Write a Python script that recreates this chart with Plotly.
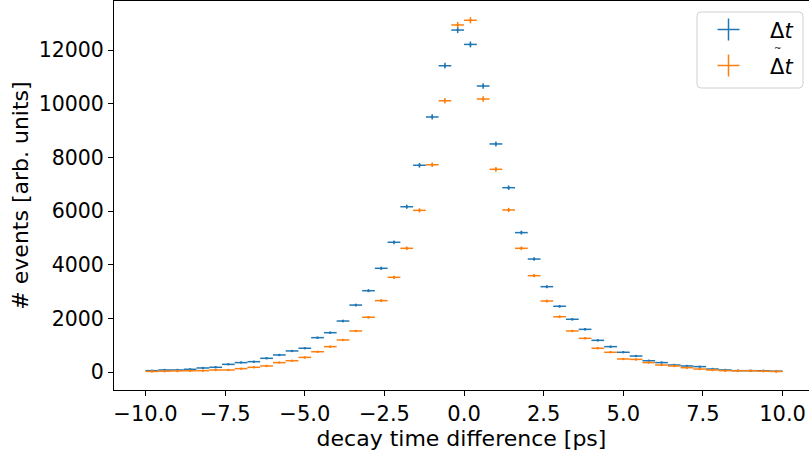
import numpy as np
import plotly.graph_objects as go

# bin centres [ps]
bin_centers = [-9.8, -9.4, -9.0, -8.6, -8.2, -7.8, -7.4, -7.0, -6.6, -6.2,
               -5.8, -5.4, -5.0, -4.6, -4.2, -3.8, -3.4, -3.0, -2.6, -2.2,
               -1.8, -1.4, -1.0, -0.6, -0.2, 0.2, 0.6, 1.0, 1.4, 1.8,
               2.2, 2.6, 3.0, 3.4, 3.8, 4.2, 4.6, 5.0, 5.4, 5.8,
               6.2, 6.6, 7.0, 7.4, 7.8, 8.2, 8.6, 9.0, 9.4, 9.8]
bin_half_width = 0.2

counts_dt = [50, 75, 75, 100, 150, 175, 285, 350, 385, 510,
             635, 785, 885, 1280, 1465, 1900, 2495, 3030, 3865, 4835,
             6160, 7705, 9505, 11415, 12745, 12210, 10660, 8500, 6870, 5195,
             4210, 3180, 2450, 1965, 1590, 1180, 945, 735, 595, 420,
             350, 260, 225, 200, 110, 75, 50, 50, 45, 30]

counts_dt_tilde = [20, 30, 40, 45, 50, 75, 75, 125, 175, 225,
                   350, 420, 545, 755, 945, 1195, 1530, 2040, 2660, 3530,
                   4610, 6025, 7725, 10110, 12935, 13110, 10175, 7555, 6040, 4610,
                   3590, 2645, 2060, 1530, 1255, 885, 735, 485, 470, 350,
                   260, 225, 160, 110, 75, 50, 45, 45, 30, 20]

series_names = ["Δ<i>t</i>", "Δ<i>t</i>"]
series_accents = ["", "~"]
series_colors = ["#1f77b4", "#ff7f0e"]

x_tick_vals = [-10.0, -7.5, -5.0, -2.5, 0.0, 2.5, 5.0, 7.5, 10.0]
x_tick_text = ["−10.0", "−7.5", "−5.0", "−2.5", "0.0", "2.5", "5.0", "7.5", "10.0"]
y_tick_vals = [0, 2000, 4000, 6000, 8000, 10000, 12000]
y_tick_text = ["0", "2000", "4000", "6000", "8000", "10000", "12000"]

FONT = "DejaVu Sans"
W, H = 809, 451
L, R, T, B = 114, 0, 1, 61
PW, PH = W - L - R, H - T - B


def px(xp):
    return (xp - L) / PW


def py(yp):
    return (H - B - yp) / PH


fig = go.Figure()
for vals, col in zip([counts_dt, counts_dt_tilde], series_colors):
    fig.add_trace(go.Scatter(
        x=bin_centers, y=vals, mode="markers",
        marker=dict(size=2.5, color=col),
        error_x=dict(type="constant", value=bin_half_width, width=0,
                     thickness=1.5, color=col),
        error_y=dict(type="data", array=list(np.sqrt(vals)), width=0,
                     thickness=1.5, color=col),
        showlegend=False, hoverinfo="x+y",
    ))

# legend (matplotlib style, drawn manually)
x0, x1, y0, y1, r = 697, 803, 12, 88, 4
path = (f"M {px(x0 + r)},{py(y0)} L {px(x1 - r)},{py(y0)} "
        f"Q {px(x1)},{py(y0)} {px(x1)},{py(y0 + r)} "
        f"L {px(x1)},{py(y1 - r)} Q {px(x1)},{py(y1)} {px(x1 - r)},{py(y1)} "
        f"L {px(x0 + r)},{py(y1)} Q {px(x0)},{py(y1)} {px(x0)},{py(y1 - r)} "
        f"L {px(x0)},{py(y0 + r)} Q {px(x0)},{py(y0)} {px(x0 + r)},{py(y0)} Z")
shapes = [dict(type="path", path=path, xref="paper", yref="paper",
               line=dict(color="#d0d0d0", width=1),
               fillcolor="rgba(255,255,255,0.8)", layer="above")]
annotations = []
for i, (name, acc, col) in enumerate(zip(series_names, series_accents, series_colors)):
    cy = 29.5 + 36 * i
    cx = 728.5
    shapes.append(dict(type="line", xref="paper", yref="paper",
                       x0=px(cx - 11), x1=px(cx + 11), y0=py(cy), y1=py(cy),
                       line=dict(color=col, width=1.5), layer="above"))
    shapes.append(dict(type="line", xref="paper", yref="paper",
                       x0=px(cx), x1=px(cx), y0=py(cy - 11), y1=py(cy + 11),
                       line=dict(color=col, width=1.5), layer="above"))
    annotations.append(dict(xref="paper", yref="paper", x=px(768), y=py(cy + 1),
                            xanchor="left", yanchor="middle", text=name,
                            showarrow=False,
                            font=dict(family=FONT, size=21, color="black")))
    if acc:
        annotations.append(dict(xref="paper", yref="paper", x=px(777.5),
                                y=py(cy - 17.5), xanchor="center",
                                yanchor="middle", text=acc, showarrow=False,
                                font=dict(family=FONT, size=9, color="black")))

fig.update_layout(
    width=W, height=H,
    margin=dict(l=L, r=R, t=T, b=B, pad=0),
    paper_bgcolor="white", plot_bgcolor="white",
    font=dict(family=FONT, color="black"),
    shapes=shapes, annotations=annotations,
    xaxis=dict(range=[-10.99, 10.83], tickvals=x_tick_vals, ticktext=x_tick_text,
               showgrid=False, zeroline=False, showline=True, linecolor="black",
               linewidth=1, mirror=True, ticks="outside", ticklen=5, tickwidth=1,
               tickcolor="black", tickfont=dict(family=FONT, size=21),
               title=dict(text="decay time difference [ps]",
                          font=dict(family=FONT, size=22), standoff=2),
               automargin=False),
    yaxis=dict(range=[-671, 13828], tickvals=y_tick_vals, ticktext=y_tick_text,
               showgrid=False, zeroline=False, showline=True, linecolor="black",
               linewidth=1, mirror=False, ticks="outside", ticklen=5, tickwidth=1,
               tickcolor="black", tickfont=dict(family=FONT, size=20.5),
               title=dict(text="# events [arb. units]",
                          font=dict(family=FONT, size=22), standoff=3),
               automargin=False),
)

fig.write_html("out.html")
